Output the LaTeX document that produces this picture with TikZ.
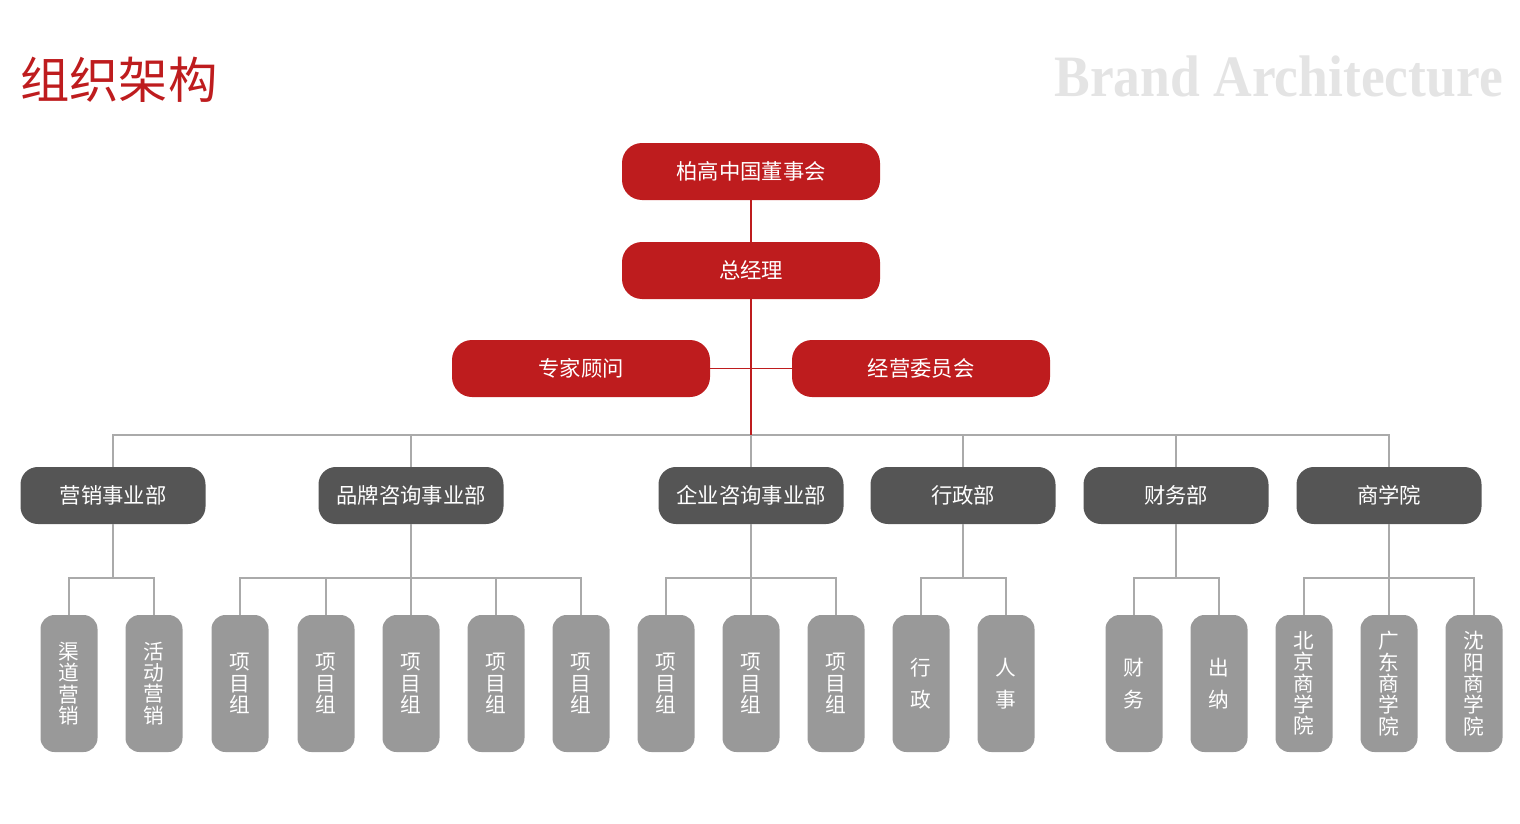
\documentclass[tikz,border=0pt]{standalone}
\usepackage{fontspec}
\setmainfont{Noto Sans CJK SC}
\newfontfamily\brandfont{Liberation Serif}
\definecolor{cRed}{HTML}{BE1C1E}
\definecolor{cDark}{HTML}{555555}
\definecolor{cGray}{HTML}{999999}
\definecolor{cLine}{HTML}{AAAAAA}
\definecolor{cBrand}{HTML}{E4E4E4}
\tikzset{
  redbox/.style={fill=cRed, rounded corners=15pt, minimum width=193.5pt, minimum height=42.75pt, inner sep=0pt, text=white, font=\fontsize{16}{18}\selectfont},
  deptbox/.style={fill=cDark, rounded corners=13pt, minimum width=138.75pt, minimum height=42.75pt, inner sep=0pt, text=white, font=\fontsize{16}{18}\selectfont},
  leaf/.style={fill=cGray, rounded corners=10.5pt, minimum width=42.75pt, minimum height=102.75pt, inner sep=0pt, text=white, align=center, font=\fontsize{15.5}{16}\selectfont},
  leafwide/.style={leaf, font=\fontsize{15.5}{24}\selectfont},
  redline/.style={draw=cRed, line width=1.1pt},
  grayline/.style={draw=cLine, line width=1.1pt},
}
\begin{document}
\begin{tikzpicture}[x=0.75pt, y=-0.75pt]
\useasboundingbox (0,0) rectangle (1520,824);
% titles
\node[anchor=west, text=cRed, font=\fontsize{37}{40}\selectfont, inner sep=0pt] (title) at (20,80) {组织架构};
\node[anchor=east, text=cBrand, font=\brandfont\bfseries\fontsize{44}{48}\selectfont, inner sep=0pt, xscale=0.912, transform shape] (brand) at (1503,77) {Brand Architecture};
% top
\node[redbox] (board) at (751,171.5) {柏高中国董事会};
\node[redbox] (gm) at (751,270.5) {总经理};
\node[redbox] (expert) at (581,368.5) {专家顾问};
\node[redbox] (comm) at (921,368.5) {经营委员会};
\coordinate (bus) at (751,435);
% departments
\node[deptbox] (d1) at (113,495.5) {营销事业部};
\node[deptbox] (d2) at (411,495.5) {品牌咨询事业部};
\node[deptbox] (d3) at (751,495.5) {企业咨询事业部};
\node[deptbox] (d4) at (963,495.5) {行政部};
\node[deptbox] (d5) at (1176,495.5) {财务部};
\node[deptbox] (d6) at (1389,495.5) {商学院};
% leaves
\coordinate (sb) at (751,578);
\node[leaf] (l1) at (69,683.5) {渠\\道\\营\\销};
\node[leaf] (l2) at (154,683.5) {活\\动\\营\\销};
\node[leaf] (l3) at (240,683.5) {项\\目\\组};
\node[leaf] (l4) at (326,683.5) {项\\目\\组};
\node[leaf] (l5) at (411,683.5) {项\\目\\组};
\node[leaf] (l6) at (496,683.5) {项\\目\\组};
\node[leaf] (l7) at (581,683.5) {项\\目\\组};
\node[leaf] (l8) at (666,683.5) {项\\目\\组};
\node[leaf] (l9) at (751,683.5) {项\\目\\组};
\node[leaf] (l10) at (836,683.5) {项\\目\\组};
\node[leafwide] (l11) at (921,683.5) {行\\政};
\node[leafwide] (l12) at (1006,683.5) {人\\事};
\node[leafwide] (l13) at (1134,683.5) {财\\务};
\node[leafwide] (l14) at (1219,683.5) {出\\纳};
\node[leaf] (l15) at (1304,683.5) {北\\京\\商\\学\\院};
\node[leaf] (l16) at (1389,683.5) {广\\东\\商\\学\\院};
\node[leaf] (l17) at (1474,683.5) {沈\\阳\\商\\学\\院};
% gray connectors (drawn first under red)
\draw[grayline] (d1.north) -- (d1.north |- bus) -- (d6.north |- bus) -- (d6.north);
\foreach \d in {d2,d3,d4,d5} \draw[grayline] (\d.north) -- (\d.north |- bus);
\foreach \d in {d1,d2,d3,d4,d5,d6} \draw[grayline] (\d.south) -- (\d.south |- sb);
\draw[grayline] (l1.north) |- (l2.north |- sb) -- (l2.north);
\draw[grayline] (l3.north) |- (l7.north |- sb) -- (l7.north);
\foreach \l in {l4,l5,l6} \draw[grayline] (\l.north) -- (\l.north |- sb);
\draw[grayline] (l8.north) |- (l10.north |- sb) -- (l10.north);
\draw[grayline] (l9.north) -- (l9.north |- sb);
\draw[grayline] (l11.north) |- (l12.north |- sb) -- (l12.north);
\draw[grayline] (l13.north) |- (l14.north |- sb) -- (l14.north);
\draw[grayline] (l15.north) |- (l17.north |- sb) -- (l17.north);
\draw[grayline] (l16.north) -- (l16.north |- sb);
% red connectors
\draw[redline] (board) -- (gm);
\draw[redline] (gm) -- (bus);
\draw[redline] (expert) -- (comm);
\end{tikzpicture}
\end{document}
